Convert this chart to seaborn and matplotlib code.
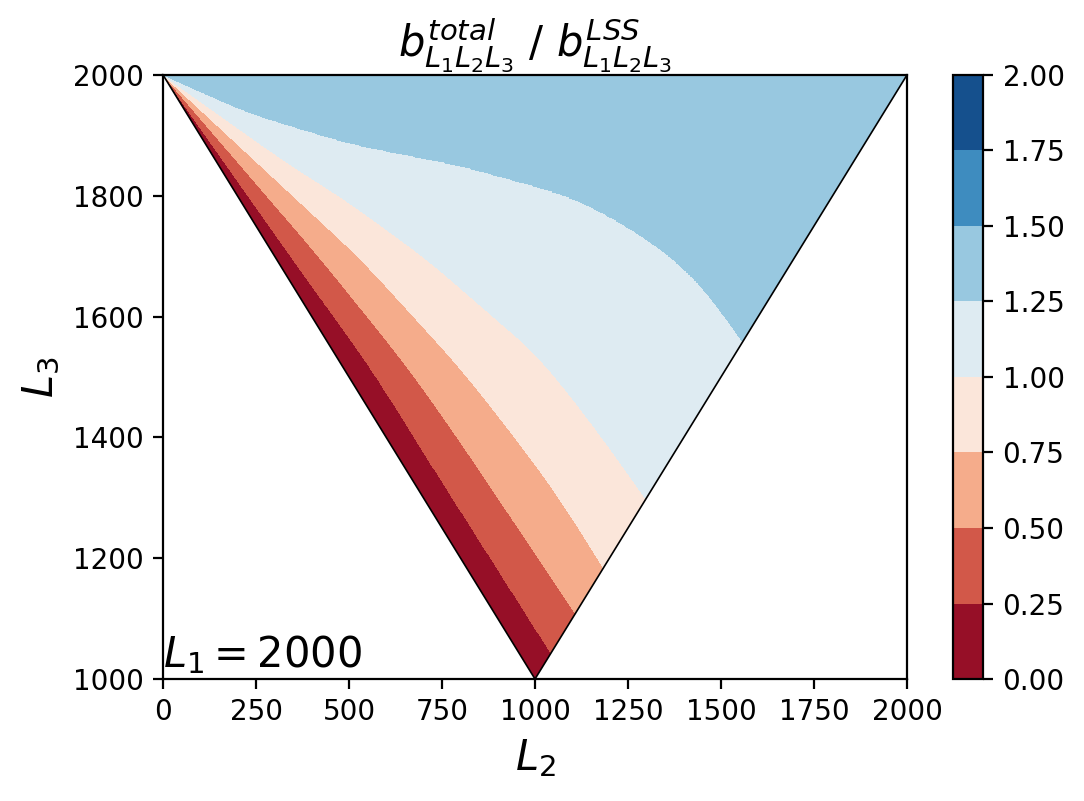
import numpy as np
import matplotlib
matplotlib.use("Agg")
import matplotlib.pyplot as plt
import seaborn as sns
from matplotlib.patches import Polygon

# fixed side of the triangle configurations
L1 = 2000

# contour levels shown on the colour bar
contour_levels = [0.0, 0.25, 0.5, 0.75, 1.0, 1.25, 1.5, 1.75, 2.0]

# boundaries between the coloured bands as (L2, L3) points.
# the last point of each carries the line on below the visible triangle
b025_L2 = [0, 349, 562, 696, 1040, 2000]
b025_L3 = [2000, 1694, 1512, 1379, 1045, 113]

b050_L2 = [0, 427, 664, 815, 1108, 2000]
b050_L3 = [2000, 1694, 1512, 1379, 1109, 287]

b075_L2 = [0, 535, 804, 973, 1075, 1183, 2000]
b075_L3 = [2000, 1694, 1512, 1379, 1292, 1185, 376]

b100_L2 = [0, 323, 503, 712, 1013, 1167, 1296, 2000]
b100_L3 = [2000, 1859, 1788, 1694, 1533, 1412, 1300, 689]

b125_L2 = [0, 234, 503, 798, 1013, 1121, 1255, 1390, 1489, 1556, 2000]
b125_L3 = [2000, 1937, 1887, 1851, 1815, 1793, 1748, 1690, 1622, 1561, 1157]

boundary_values = [0.25, 0.5, 0.75, 1.0, 1.25]
below_value = 0.2   # ratio just left of the lowest boundary
above_value = 1.3   # ratio above the highest boundary

sns.set_style("ticks", rc={
    "axes.edgecolor": "black",
    "axes.labelcolor": "black",
    "text.color": "black",
    "xtick.color": "black",
    "ytick.color": "black",
})
plt.rcParams["font.family"] = ["DejaVu Sans"]
plt.rcParams["xtick.labelsize"] = 10
plt.rcParams["ytick.labelsize"] = 10


def smooth(y, half):
    # running mean, ends padded by point reflection so straight parts stay put
    left = 2 * y[0] - y[1:half + 1][::-1]
    right = 2 * y[-1] - y[-half - 1:-1][::-1]
    ext = np.concatenate([left, y, right])
    kernel = np.ones(2 * half + 1) / (2 * half + 1)
    return np.convolve(ext, kernel, mode="valid")


# build the ratio field column by column from the band boundaries
L2_grid = np.linspace(0, L1, 1001)
L3_grid = np.linspace(L1 / 2, L1, 501)
boundaries = [
    (b025_L2, b025_L3),
    (b050_L2, b050_L3),
    (b075_L2, b075_L3),
    (b100_L2, b100_L3),
    (b125_L2, b125_L3),
]
heights = np.array([smooth(np.interp(L2_grid, x, y), 35) for x, y in boundaries])
fp = [below_value] + boundary_values + [above_value]
ratio = np.empty((L3_grid.size, L2_grid.size))
for i in range(L2_grid.size):
    xp = np.concatenate([[heights[0, i] - 1], heights[:, i], [heights[-1, i] + 1]])
    ratio[:, i] = np.interp(L3_grid, xp, fp)

fig = plt.figure(figsize=(5.42, 4.005), dpi=200)
ax = fig.add_axes([0.1504, 0.1523, 0.6863, 0.7541])
cax = fig.add_axes([0.8792, 0.1523, 0.0277, 0.7541])

cmap = sns.color_palette("RdBu", as_cmap=True)
cs = ax.contourf(L2_grid, L3_grid, ratio, levels=contour_levels, cmap=cmap)

# only the triangle allowed by L1 is filled
corners = [(0, L1), (L1 / 2, L1 / 2), (L1, L1)]
tri = Polygon(corners, closed=True, transform=ax.transData,
              facecolor="none", edgecolor="none")
ax.add_patch(tri)
cs.set_clip_path(tri)
ax.plot([corners[0][0], corners[1][0]], [corners[0][1], corners[1][1]],
        color="black", lw=0.6)
ax.plot([corners[1][0], corners[2][0]], [corners[1][1], corners[2][1]],
        color="black", lw=0.6)

ax.set_xlim(0, L1)
ax.set_ylim(L1 / 2, L1)
ax.set_xticks([0, 250, 500, 750, 1000, 1250, 1500, 1750, 2000])
ax.set_yticks([1000, 1200, 1400, 1600, 1800, 2000])
ax.set_xlabel(r"$L_2$", fontsize=15)
ax.set_ylabel(r"$L_3$", fontsize=15)
ax.set_title(r"$b^{total}_{L_1L_2L_3}$ / $b^{LSS}_{L_1L_2L_3}$", fontsize=15)
ax.text(0.0, 0.005, r"$L_1 = %d$" % L1, transform=ax.transAxes,
        fontsize=15, ha="left", va="bottom")

fig.colorbar(cs, cax=cax)

fig.savefig("out.png", dpi=200)
